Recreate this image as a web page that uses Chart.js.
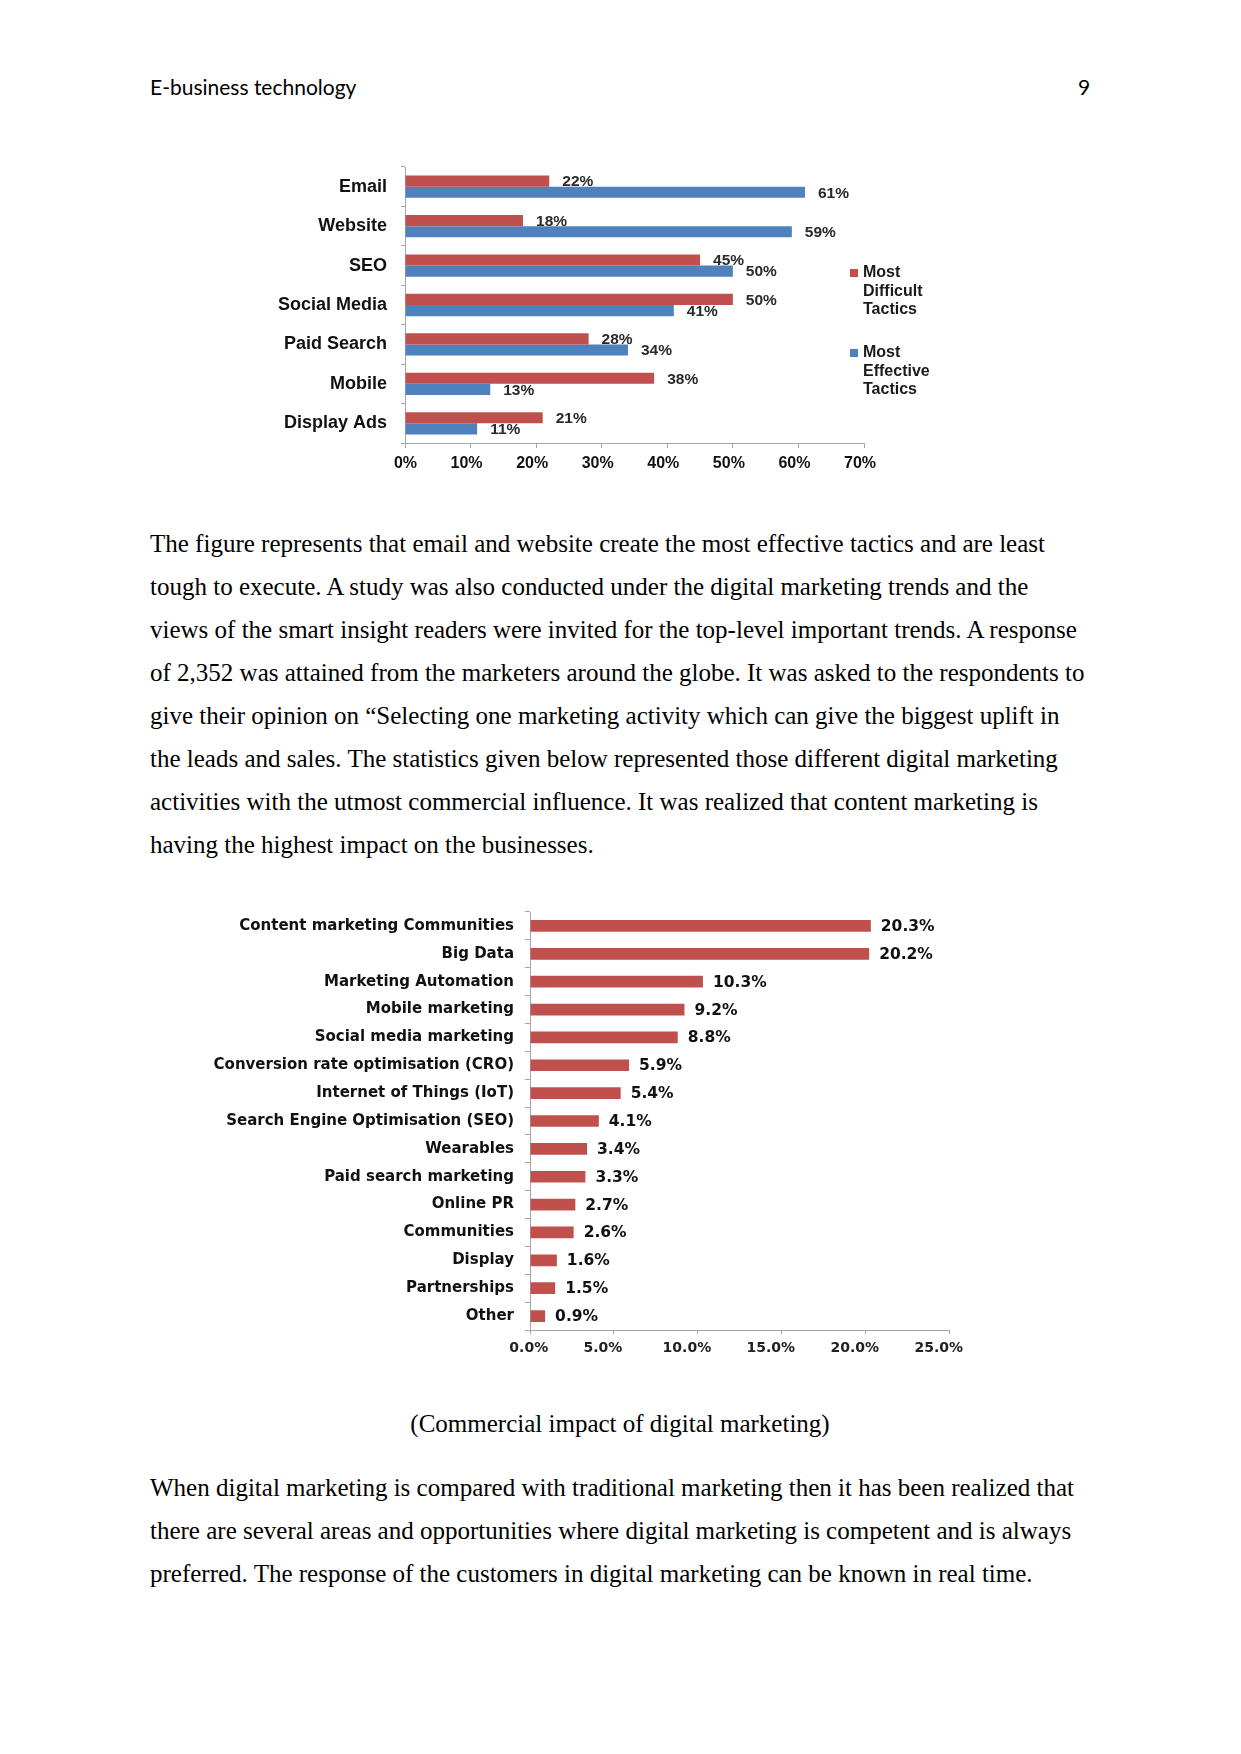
<!DOCTYPE html>
<html>
<head>
<meta charset="utf-8">
<script src="https://cdn.jsdelivr.net/npm/chart.js@4.4.1/dist/chart.umd.min.js"></script>
<style>
    html, body { margin: 0; padding: 0; background: #fff; }
    #page { position: relative; width: 1241px; height: 1754px; overflow: hidden; }
    .hdr { position: absolute; font-family: Lato, "Liberation Sans", sans-serif; font-size: 21px; color: #000; }
    .body { position: absolute; left: 150px; font-family: "Liberation Serif", "Times New Roman", serif; font-size: 25px; line-height: 43px; color: #000; white-space: pre; }
    .caption { position: absolute; left: 0; width: 1240px; text-align: center; font-family: "Liberation Serif", serif; font-size: 25px; line-height: 43px; }
    .box { position: absolute; }
</style>
</head>
<body>
<div id="page">
    <div class="hdr" style="left:150px; top:74px;">E-business technology</div>
    <div class="hdr" style="left:1078px; top:74px;">9</div>

    <div class="box" style="left:240px; top:150px; width:720px; height:340px;">
        <canvas id="tactics-chart" width="720" height="340"></canvas>
    </div>

    <div class="body" style="top:522px;">The figure represents that email and website create the most effective tactics and are least
tough to execute. A study was also conducted under the digital marketing trends and the
views of the smart insight readers were invited for the top-level important trends. A response
of 2,352 was attained from the marketers around the globe. It was asked to the respondents to
give their opinion on “Selecting one marketing activity which can give the biggest uplift in
the leads and sales. The statistics given below represented those different digital marketing
activities with the utmost commercial influence. It was realized that content marketing is
having the highest impact on the businesses.</div>

    <div class="box" style="left:180px; top:900px; width:800px; height:480px;">
        <canvas id="impact-chart" width="800" height="480"></canvas>
    </div>

    <div class="caption" style="top:1402px;">(Commercial impact of digital marketing)</div>

    <div class="body" style="top:1466px;">When digital marketing is compared with traditional marketing then it has been realized that
there are several areas and opportunities where digital marketing is competent and is always
preferred. The response of the customers in digital marketing can be known in real time.</div>
</div>

<script>
// 图一：营销手段（最难 / 最有效）
const tacticLabels = ['Email', 'Website', 'SEO', 'Social Media', 'Paid Search', 'Mobile', 'Display Ads'];
const mostDifficult = [22, 18, 45, 50, 28, 38, 21];
const mostEffective = [61, 59, 50, 41, 34, 13, 11];
const tacticTicks = [0, 10, 20, 30, 40, 50, 60, 70];

// 图二：数字营销的商业影响
const impactLabels = [
    'Content marketing Communities', 'Big Data', 'Marketing Automation', 'Mobile marketing',
    'Social media marketing', 'Conversion rate optimisation (CRO)', 'Internet of Things (IoT)',
    'Search Engine Optimisation (SEO)', 'Wearables', 'Paid search marketing', 'Online PR',
    'Communities', 'Display', 'Partnerships', 'Other'
];
const impactValues = [20.3, 20.2, 10.3, 9.2, 8.8, 5.9, 5.4, 4.1, 3.4, 3.3, 2.7, 2.6, 1.6, 1.5, 0.9];
const impactTicks = [0, 5, 10, 15, 20, 25];

const RED = '#C0504D';
const BLUE = '#4F81BD';
const AXIS = '#a6a6a6';

/**
 * 在柱子末端写数值
 */
const barValueLabels = {
    id: 'barValueLabels',
    afterDatasetsDraw(chart, args, opts) {
        const ctx = chart.ctx;
        ctx.save();
        ctx.font = opts.font;
        ctx.fillStyle = opts.color;
        ctx.textAlign = 'left';
        ctx.textBaseline = 'middle';
        chart.data.datasets.forEach((ds, i) => {
            chart.getDatasetMeta(i).data.forEach((bar, j) => {
                ctx.fillText(opts.format(ds.data[j]), bar.x + opts.offset, bar.y + 1);
            });
        });
        ctx.restore();
    }
};

/**
 * 右侧图例（每个词一行）
 */
const sideLegend = {
    id: 'sideLegend',
    afterDraw(chart, args, opts) {
        const ctx = chart.ctx;
        ctx.save();
        ctx.font = opts.font;
        ctx.textBaseline = 'middle';
        chart.data.datasets.forEach((ds, i) => {
            const top = opts.y[i];
            ctx.fillStyle = ds.backgroundColor;
            ctx.fillRect(opts.x, top - 4, 8, 8);
            ctx.fillStyle = '#1a1a1a';
            ds.label.split(' ').forEach((word, k) => {
                ctx.fillText(word, opts.x + 13, top + k * opts.lineHeight);
            });
        });
        ctx.restore();
    }
};

// 去掉类别轴自动加的上下留白，让绘图区正好从 layout.padding 开始
function noEdgePadding(scale, width) {
    scale.width = width;
    scale.paddingTop = 0;
    scale.paddingBottom = 0;
}

function renderTacticsChart() {
    const ctx = document.getElementById('tactics-chart').getContext('2d');
    new Chart(ctx, {
        type: 'bar',
        data: {
            labels: tacticLabels,
            datasets: [
                { label: 'Most Difficult Tactics', data: mostDifficult, backgroundColor: RED },
                { label: 'Most Effective Tactics', data: mostEffective, backgroundColor: BLUE }
            ]
        },
        options: {
            indexAxis: 'y',
            responsive: false,
            animation: false,
            categoryPercentage: 0.565,
            barPercentage: 1.0,
            layout: { padding: { top: 17, right: 96, left: 0, bottom: 0 } },
            plugins: {
                legend: { display: false },
                tooltip: { enabled: false },
                barValueLabels: { font: 'bold 15.5px "Liberation Sans", Arial, sans-serif', color: '#2a2a2a', offset: 13, format: v => v + '%' },
                sideLegend: { font: 'bold 16px "Liberation Sans", Arial, sans-serif', x: 610, y: [123, 203], lineHeight: 18.5 }
            },
            scales: {
                x: {
                    min: tacticTicks[0],
                    max: tacticTicks[tacticTicks.length - 1],
                    afterBuildTicks: scale => { scale.ticks = tacticTicks.map(v => ({ value: v })); },
                    afterFit: scale => { scale.height = 47; },
                    grid: { drawOnChartArea: false, drawTicks: true, tickLength: 5, color: AXIS },
                    border: { color: AXIS },
                    ticks: {
                        color: '#111',
                        padding: 6,
                        labelOffset: -4,
                        font: { family: '"Liberation Sans", Arial, sans-serif', size: 16, weight: 'bold' },
                        // 原图 0% 正对坐标轴，其余略偏左
                        callback: v => (v === 0 ? '  ' : '') + v + '%'
                    }
                },
                y: {
                    afterFit: scale => noEdgePadding(scale, 165),
                    grid: { drawOnChartArea: false, drawTicks: true, tickLength: 4, offset: true, color: AXIS },
                    border: { color: AXIS },
                    ticks: {
                        color: '#111',
                        padding: 14,
                        font: { family: '"Liberation Sans", Arial, sans-serif', size: 18, weight: 'bold' }
                    }
                }
            }
        },
        plugins: [barValueLabels, sideLegend]
    });
}

function renderImpactChart() {
    const ctx = document.getElementById('impact-chart').getContext('2d');
    new Chart(ctx, {
        type: 'bar',
        data: {
            labels: impactLabels,
            datasets: [{ label: 'Commercial impact', data: impactValues, backgroundColor: RED }]
        },
        options: {
            indexAxis: 'y',
            responsive: false,
            animation: false,
            categoryPercentage: 1.0,
            barPercentage: 0.42,
            layout: { padding: { top: 12, right: 28, left: 0, bottom: 0 } },
            plugins: {
                legend: { display: false },
                tooltip: { enabled: false },
                barValueLabels: { font: 'bold 15.5px "DejaVu Sans", Verdana, sans-serif', color: '#111', offset: 10, format: v => v.toFixed(1) + '%' }
            },
            scales: {
                x: {
                    min: impactTicks[0],
                    max: impactTicks[impactTicks.length - 1],
                    afterBuildTicks: scale => { scale.ticks = impactTicks.map(v => ({ value: v })); },
                    afterFit: scale => { scale.height = 50; },
                    grid: { drawOnChartArea: false, drawTicks: true, tickLength: 4, color: AXIS },
                    border: { color: AXIS },
                    ticks: {
                        color: '#222',
                        padding: 6,
                        labelOffset: -11,
                        font: { family: '"DejaVu Sans", Verdana, sans-serif', size: 14, weight: 'bold' },
                        callback: v => (v === 0 ? '    ' : '') + v.toFixed(1) + '%'
                    }
                },
                y: {
                    afterFit: scale => noEdgePadding(scale, 350),
                    grid: { drawOnChartArea: false, drawTicks: true, tickLength: 5, offset: true, color: AXIS },
                    border: { color: AXIS },
                    ticks: {
                        color: '#111',
                        padding: 11,
                        font: { family: '"DejaVu Sans", Verdana, sans-serif', size: 15, weight: 'bold' }
                    }
                }
            }
        },
        plugins: [barValueLabels]
    });
}

renderTacticsChart();
renderImpactChart();
</script>
</body>
</html>
